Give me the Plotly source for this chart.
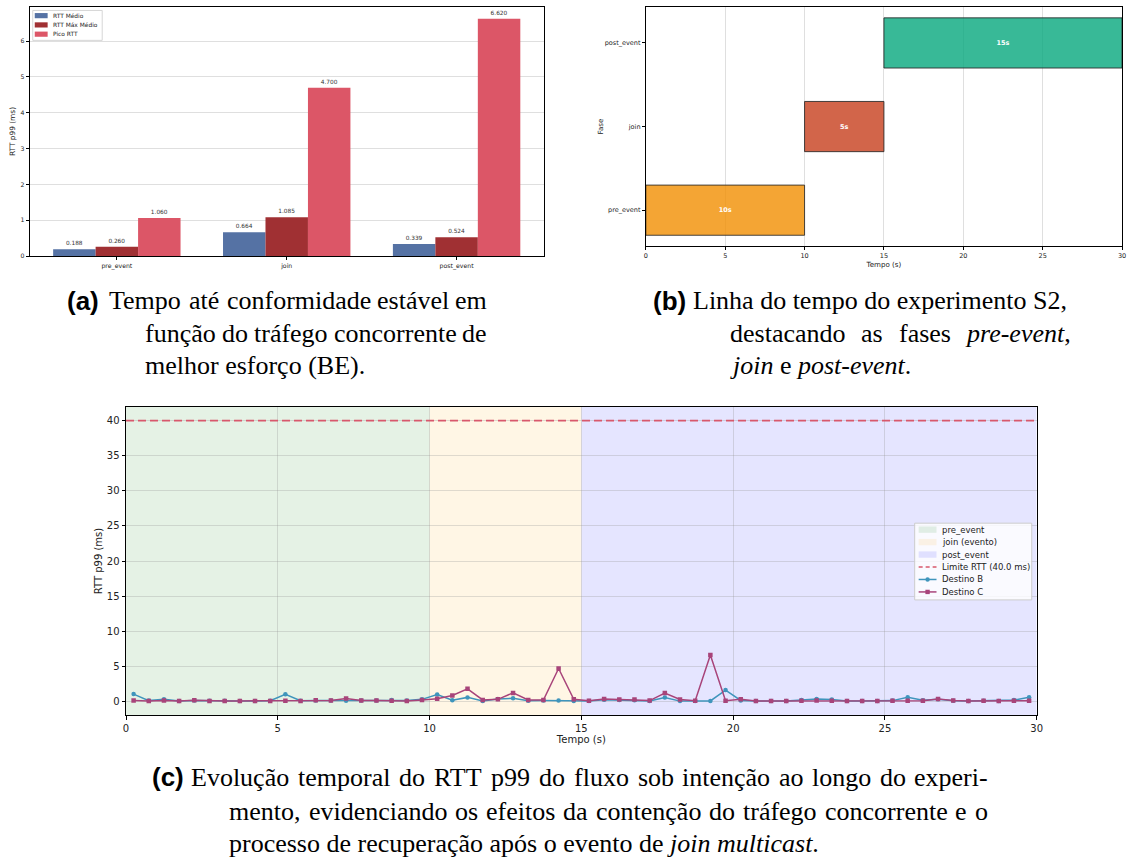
import re
import plotly.graph_objects as go

W, H = 1130, 861


def px(x):
    return x / W


def py(y):
    return 1 - y / H


# ---------------- data ----------------
# (a) bar chart
fases = ["pre_event", "join", "post_event"]
rtt_medio = [0.188, 0.664, 0.339]
rtt_max_medio = [0.260, 1.085, 0.524]
pico_rtt = [1.060, 4.700, 6.620]
series_a_names = ["RTT Médio", "RTT Máx Médio", "Pico RTT"]
series_a_colors = ["#5572a4", "#a03033", "#dc5667"]

# (b) timeline
fase_inicio = [0, 10, 15]
fase_duracao = [10, 5, 15]
fase_cores = ["rgba(241,143,1,0.8)", "rgba(199,62,29,0.8)", "rgba(6,167,125,0.8)"]

# (c) time series
tempo = [0.25, 0.75, 1.25, 1.75, 2.25, 2.75, 3.25, 3.75, 4.25, 4.75,
         5.25, 5.75, 6.25, 6.75, 7.25, 7.75, 8.25, 8.75, 9.25, 9.75,
         10.25, 10.75, 11.25, 11.75, 12.25, 12.75, 13.25, 13.75, 14.25, 14.75,
         15.25, 15.75, 16.25, 16.75, 17.25, 17.75, 18.25, 18.75, 19.25, 19.75,
         20.25, 20.75, 21.25, 21.75, 22.25, 22.75, 23.25, 23.75, 24.25, 24.75,
         25.25, 25.75, 26.25, 26.75, 27.25, 27.75, 28.25, 28.75, 29.25, 29.75]
destino_b = [1.05, 0.12, 0.32, 0.08, 0.15, 0.10, 0.10, 0.08, 0.08, 0.10,
             1.02, 0.10, 0.12, 0.12, 0.10, 0.12, 0.12, 0.20, 0.12, 0.30,
             0.98, 0.18, 0.58, 0.08, 0.35, 0.45, 0.10, 0.12, 0.12, 0.08,
             0.08, 0.25, 0.20, 0.18, 0.08, 0.55, 0.05, 0.08, 0.08, 1.62,
             0.15, 0.08, 0.08, 0.08, 0.20, 0.35, 0.28, 0.08, 0.08, 0.08,
             0.12, 0.60, 0.18, 0.30, 0.10, 0.08, 0.10, 0.08, 0.20, 0.60]
destino_c = [0.12, 0.08, 0.15, 0.08, 0.18, 0.08, 0.08, 0.08, 0.08, 0.08,
             0.10, 0.08, 0.18, 0.15, 0.42, 0.15, 0.12, 0.10, 0.08, 0.22,
             0.40, 0.85, 1.80, 0.22, 0.30, 1.22, 0.22, 0.20, 4.70, 0.30,
             0.10, 0.35, 0.28, 0.28, 0.12, 1.20, 0.28, 0.10, 6.62, 0.10,
             0.30, 0.05, 0.05, 0.08, 0.10, 0.15, 0.10, 0.08, 0.08, 0.08,
             0.10, 0.10, 0.10, 0.35, 0.12, 0.05, 0.10, 0.05, 0.10, 0.10]
limite_rtt = 40.0
faixa_nomes = ["pre_event", "join (evento)", "post_event"]
faixa_cores = ["rgba(0,128,0,0.1)", "rgba(255,165,0,0.1)", "rgba(0,0,255,0.1)"]
cor_b = "#3f95bc"
cor_c = "#a8447a"
cor_limite = "#d8586c"

FONT = "DejaVu Sans"
SERIF = "Liberation Serif"
SANS = "Liberation Sans"
GRID = "rgba(150,150,150,0.3)"

fig = go.Figure()

# ---------------- (a) grouped bars ----------------
for i, (name, vals, color) in enumerate(
        zip(series_a_names, [rtt_medio, rtt_max_medio, pico_rtt], series_a_colors)):
    fig.add_trace(go.Bar(
        x=fases, y=vals, name=name, marker=dict(color=color, line=dict(width=0)),
        width=0.25, offset=-0.375 + 0.25 * i,
        text=[f"{v:.3f}" for v in vals], textposition="outside",
        textfont=dict(size=5.8, color="#333", family=FONT),
        cliponaxis=False, xaxis="x", yaxis="y", showlegend=False))

# ---------------- (b) timeline ----------------
fig.add_trace(go.Bar(
    y=fases, x=fase_duracao, base=fase_inicio, orientation="h", width=0.6,
    marker=dict(color=fase_cores, line=dict(color="rgba(40,40,40,0.85)", width=1)),
    text=[f"{d}s" for d in fase_duracao], texttemplate="<b>%{text}</b>",
    textposition="inside", insidetextanchor="middle",
    textfont=dict(color="white", size=6.5, family=FONT),
    xaxis="x2", yaxis="y2", showlegend=False))

# ---------------- (c) time series ----------------
t_fim = fase_inicio[-1] + fase_duracao[-1]
fig.add_trace(go.Scatter(
    x=[fase_inicio[0], t_fim], y=[limite_rtt, limite_rtt], mode="lines",
    line=dict(color=cor_limite, width=1.6, dash="8px,4px"),
    xaxis="x3", yaxis="y3", showlegend=False))
fig.add_trace(go.Scatter(
    x=tempo, y=destino_b, mode="lines+markers",
    line=dict(color=cor_b, width=1.5), marker=dict(symbol="circle", size=4.5, color=cor_b),
    xaxis="x3", yaxis="y3", showlegend=False))
fig.add_trace(go.Scatter(
    x=tempo, y=destino_c, mode="lines+markers",
    line=dict(color=cor_c, width=1.5), marker=dict(symbol="square", size=4.5, color=cor_c),
    xaxis="x3", yaxis="y3", showlegend=False))

shapes = []
for s, d, c in zip(fase_inicio, fase_duracao, faixa_cores):
    shapes.append(dict(type="rect", xref="x3", yref="y3 domain", x0=s, x1=s + d,
                       y0=0, y1=1, fillcolor=c, line=dict(width=0), layer="below"))

annotations = []

# ---- manual legend (a) ----
shapes.append(dict(type="rect", xref="paper", yref="paper", x0=px(30), x1=px(100),
                   y0=py(40.5), y1=py(10.5), fillcolor="rgba(255,255,255,0.85)",
                   line=dict(color="#cccccc", width=0.8), layer="above"))
for k, (name, color) in enumerate(zip(series_a_names, series_a_colors)):
    yc = 15.7 + 9.3 * k
    shapes.append(dict(type="rect", xref="paper", yref="paper", x0=px(32), x1=px(45),
                       y0=py(yc + 2.6), y1=py(yc - 2.6), fillcolor=color,
                       line=dict(width=0), layer="above"))
    annotations.append(dict(text=name, x=px(50.5), y=py(yc), xref="paper", yref="paper",
                            xanchor="left", yanchor="middle", showarrow=False,
                            borderpad=0, borderwidth=0,
                            font=dict(size=5.9, family=FONT, color="#222")))

# ---- manual legend (c) ----
shapes.append(dict(type="rect", xref="paper", yref="paper", x0=px(919), x1=px(1037),
                   y0=py(602), y1=py(525), fillcolor="rgba(255,255,255,0.8)",
                   line=dict(color="#cccccc", width=1), layer="above"))
leg_rows = [531.5, 544.0, 556.5, 569.0, 581.5, 594.0]
leg_names = faixa_nomes + [f"Limite RTT ({limite_rtt:.1f} ms)", "Destino B", "Destino C"]
for k in range(3):
    yc = leg_rows[k]
    shapes.append(dict(type="rect", xref="paper", yref="paper", x0=px(923), x1=px(941),
                       y0=py(yc + 3.2), y1=py(yc - 3.2), fillcolor=faixa_cores[k],
                       line=dict(width=0), layer="above"))
shapes.append(dict(type="line", xref="paper", yref="paper", x0=px(923), x1=px(941),
                   y0=py(leg_rows[3]), y1=py(leg_rows[3]),
                   line=dict(color=cor_limite, width=1.6, dash="4px,3px"), layer="above"))
for k, (col, sym) in enumerate([(cor_b, "circle"), (cor_c, "square")]):
    yc = leg_rows[4 + k]
    shapes.append(dict(type="line", xref="paper", yref="paper", x0=px(923), x1=px(941),
                       y0=py(yc), y1=py(yc), line=dict(color=col, width=1.5), layer="above"))
    shapes.append(dict(type="circle" if sym == "circle" else "rect", xref="paper", yref="paper",
                       x0=px(929.8), x1=px(934.2), y0=py(yc + 2.2), y1=py(yc - 2.2),
                       fillcolor=col, line=dict(width=0), layer="above"))
for k, name in enumerate(leg_names):
    annotations.append(dict(text=name, x=px(947), y=py(leg_rows[k]), xref="paper", yref="paper",
                            xanchor="left", yanchor="middle", showarrow=False,
                            borderpad=0, borderwidth=0,
                            font=dict(size=8.5, family=FONT, color="#222")))

# ---- captions (Times-compatible metrics for justified lines) ----
CAP = 26
_ROMAN = {' ': 250, ',': 250, '.': 250, '-': 333, '(': 333, ')': 333,
          'A': 722, 'B': 667, 'C': 667, 'D': 722, 'E': 611, 'F': 556, 'G': 722, 'H': 722,
          'I': 333, 'J': 389, 'K': 722, 'L': 611, 'M': 889, 'N': 722, 'O': 722, 'P': 556,
          'Q': 722, 'R': 667, 'S': 556, 'T': 611, 'U': 722, 'V': 722, 'W': 944, 'X': 722,
          'Y': 722, 'Z': 611,
          'a': 444, 'b': 500, 'c': 444, 'd': 500, 'e': 444, 'f': 333, 'g': 500, 'h': 500,
          'i': 278, 'j': 278, 'k': 500, 'l': 278, 'm': 778, 'n': 500, 'o': 500, 'p': 500,
          'q': 500, 'r': 333, 's': 389, 't': 278, 'u': 500, 'v': 500, 'w': 722, 'x': 500,
          'y': 500, 'z': 444}
_ITALIC = {' ': 250, ',': 250, '.': 250, '-': 333,
           'a': 500, 'b': 500, 'c': 444, 'd': 500, 'e': 444, 'f': 278, 'g': 500, 'h': 500,
           'i': 278, 'j': 278, 'k': 444, 'l': 278, 'm': 722, 'n': 500, 'o': 500, 'p': 500,
           'q': 500, 'r': 389, 's': 389, 't': 278, 'u': 500, 'v': 444, 'w': 667, 'x': 444,
           'y': 444, 'z': 389}
_BASE = {'á': 'a', 'à': 'a', 'ã': 'a', 'â': 'a', 'é': 'e', 'ê': 'e', 'í': 'i',
         'ó': 'o', 'õ': 'o', 'ô': 'o', 'ú': 'u', 'ç': 'c'}


def tw(markup, size=CAP):
    italic = False
    total = 0
    for part in re.split(r'(</?i>)', markup):
        if part == '<i>':
            italic = True
        elif part == '</i>':
            italic = False
        else:
            table = _ITALIC if italic else _ROMAN
            for ch in part:
                ch = _BASE.get(ch, ch)
                total += table.get(ch, _ROMAN.get(ch, 500))
    return total * size / 1000.0


def cap(text, x, y, anchor="left", bold=False):
    annotations.append(dict(
        text=text, x=px(x), y=py(y), xref="paper", yref="paper", xanchor=anchor,
        yanchor="middle", showarrow=False, borderpad=0, borderwidth=0,
        font=dict(size=CAP, family=SANS if bold else SERIF, color="black")))


def justified(line, x0, x1, y):
    words = line.split(' ')
    widths = [tw(w) for w in words]
    gap = (x1 - x0 - sum(widths)) / (len(words) - 1)
    x = x0
    for k, (w, wd) in enumerate(zip(words, widths)):
        if k == len(words) - 1:
            cap(w, x1, y, anchor="right")
        else:
            cap(w, x, y)
        x += wd + gap


cap("<b>(a)</b>", 65, 302, bold=True)
justified("Tempo até conformidade estável em", 107, 488, 302)
justified("função do tráfego concorrente de", 143, 488, 335)
cap("melhor esforço (BE).", 143, 367)

cap("<b>(b)</b>", 655, 302, bold=True)
cap("Linha do tempo do experimento S2,", 696, 302)
justified("destacando as fases <i>pre-event</i>,", 733, 1077, 335)
cap("<i>join</i> e <i>post-event</i>.", 733, 367)

cap("<b>(c)</b>", 150, 780, bold=True)
justified("Evolução temporal do RTT p99 do fluxo sob intenção ao longo do experi-", 190, 993, 780)
justified("mento, evidenciando os efeitos da contenção do tráfego concorrente e o", 228, 993, 814)
cap("processo de recuperação após o evento de <i>join multicast</i>.", 228, 846)

axis_common = dict(showline=True, linecolor="black", linewidth=1, mirror=True,
                   ticks="outside", tickcolor="black", tickwidth=1, zeroline=False)

fig.update_layout(
    width=W, height=H, margin=dict(l=0, r=0, t=0, b=0),
    paper_bgcolor="white", plot_bgcolor="white", barmode="overlay",
    font=dict(family=FONT, color="#222"),
    showlegend=False,
    xaxis=dict(domain=[px(27), px(545)], anchor="y", type="category",
               categoryorder="array", categoryarray=fases, range=[-0.5125, 2.5125],
               showgrid=False, ticklen=3, tickfont=dict(size=6.2), **axis_common),
    yaxis=dict(domain=[py(257), py(7)], anchor="x", range=[0, 6.95], dtick=1,
               showgrid=True, gridcolor=GRID, ticklen=3, tickfont=dict(size=6.2),
               title=dict(text="RTT p99 (ms)", font=dict(size=7.4), standoff=4),
               **axis_common),
    xaxis2=dict(domain=[px(648), px(1128)], anchor="y2", range=[0, t_fim], dtick=5,
                showgrid=True, gridcolor=GRID, ticklen=3, tickfont=dict(size=6.5),
                title=dict(text="Tempo (s)", font=dict(size=7.1), standoff=2),
                **axis_common),
    yaxis2=dict(domain=[py(247), py(7)], anchor="x2", type="category",
                categoryorder="array", categoryarray=fases, range=[-0.43, 2.43],
                showgrid=False, ticklen=3, tickfont=dict(size=6.5),
                title=dict(text="Fase", font=dict(size=7.1), standoff=0),
                **axis_common),
    xaxis3=dict(domain=[px(124), px(1042)], anchor="y3", range=[0, t_fim], dtick=5,
                showgrid=True, gridcolor=GRID, ticklen=3.5, tickfont=dict(size=10),
                title=dict(text="Tempo (s)", font=dict(size=10), standoff=2),
                **axis_common),
    yaxis3=dict(domain=[py(718), py(408)], anchor="x3", range=[-2, 42], dtick=5,
                showgrid=True, gridcolor=GRID, ticklen=3.5, tickfont=dict(size=10),
                title=dict(text="RTT p99 (ms)", font=dict(size=10), standoff=2),
                **axis_common),
    shapes=shapes, annotations=annotations,
)

fig.write_html(
    "out.html", config={"displayModeBar": False},
    post_script=("document.documentElement.style.margin='0';"
                 "document.documentElement.style.overflow='hidden';"
                 "document.body.style.margin='0';"
                 "document.body.style.overflow='hidden';"
                 "var gd=document.getElementById('{plot_id}');"
                 "gd.style.position='fixed';gd.style.left='0';gd.style.top='0';"))
